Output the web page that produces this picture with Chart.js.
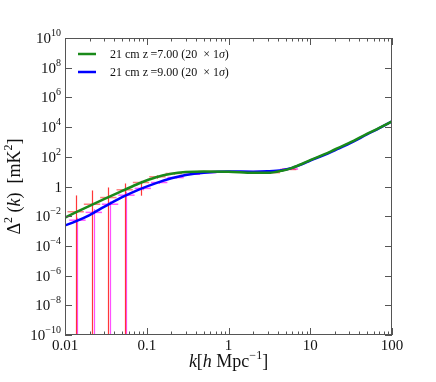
<!DOCTYPE html>
<html>
<head>
<meta charset="utf-8">
<script src="https://cdn.jsdelivr.net/npm/chart.js@4"></script>
<style>
  html, body { margin: 0; padding: 0; background: #fff; }
  #wrap { width: 436px; height: 382px; }
</style>
</head>
<body>
<div id="wrap"><canvas id="chart"></canvas></div>
<script>
// model power spectra
const kModel = [0.01, 0.0135, 0.02, 0.03, 0.05, 0.08, 0.13, 0.2, 0.3, 0.5, 1, 2, 3, 4.5, 6, 8, 10, 15, 20, 30, 50, 70, 100];
const powerZ7 = [0.008, 0.018, 0.05, 0.14, 0.5, 1.6, 4.2, 7.2, 9.3, 10.3, 10, 8.3, 8.3, 11.5, 18, 34, 60, 150, 310, 850, 3600, 8900, 24000];
const powerZ9 = [0.0024, 0.0045, 0.012, 0.042, 0.19, 0.62, 1.7, 3.6, 6, 8.5, 10.3, 10, 10.5, 12.5, 18, 32, 55, 135, 275, 760, 3300, 8400, 24000];
const seriesLabels = ['21 cm z\u2009=7.00 (20  \u00d7 1\u03c3)', '21 cm z\u2009=9.00 (20  \u00d7 1\u03c3)'];

// binned errors (null lower = goes below the axis)
const binK7 = [0.0135, 0.0214, 0.0339, 0.0537, 0.0851, 0.135, 0.214, 0.339, 0.537, 0.851, 1.35, 2.14, 3.39, 5.37];
const binVal7 = [0.02, 0.064, 0.18, 0.6, 1.86, 4.5, 7.5, 9.8, 10.2, 10, 9.3, 8.4, 8.6, 14];
const binHi7 = [0.25, 0.54, 0.86, 1.6, 2.4, 5.6, 8.6, 10.9, 11, 10.7, 9.9, 8.9, 9.1, 15];
const binLo7 = [null, null, null, null, 0.24, 3.4, 6.4, 8.7, 9.4, 9.3, 8.7, 7.9, 8.1, 13];

const binK9 = [0.0142, 0.0225, 0.0356, 0.0564, 0.0894, 0.142, 0.225, 0.356, 0.564, 0.894, 1.42, 2.25, 3.56, 5.64];
const binVal9 = [0.0054, 0.018, 0.064, 0.26, 0.75, 1.86, 4, 6.7, 8.7, 9.8, 10, 10, 10.8, 15];
const binHi9 = [0.008, 0.03, 0.1, 0.45, 0.95, 2.2, 4.5, 7.3, 9.3, 10.3, 10.4, 10.4, 11.3, 15.6];
const binLo9 = [null, null, null, null, 0.55, 1.5, 3.5, 6.1, 8.1, 9.3, 9.6, 9.6, 10.3, 14.4];

const xTicks = [0.01, 0.1, 1, 10, 100];
const yTickExps = [-10, -8, -6, -4, -2, 0, 2, 4, 6, 8, 10];

const binHalf = Math.pow(10, 0.1);
const serif = '"Liberation Serif", "DejaVu Serif", serif';

function pts(xs, ys) {
    return xs.map((x, i) => ({ x: x, y: ys[i] }));
}

function drawRich(ctx, parts, x, y, align) {
    let w = 0;
    parts.forEach(p => { ctx.font = p.font; w += ctx.measureText(p.t).width; });
    let cx = align === 'right' ? x - w : align === 'center' ? x - w / 2 : x;
    ctx.textAlign = 'left';
    ctx.textBaseline = 'alphabetic';
    parts.forEach(p => {
        ctx.font = p.font;
        ctx.fillText(p.t, cx, y - (p.dy || 0));
        cx += ctx.measureText(p.t).width;
    });
}

const errorBars = {
    id: 'errorBars',
    beforeDatasetsDraw(chart) {
        const ctx = chart.ctx, a = chart.chartArea;
        const xs = chart.scales.x, ys = chart.scales.y;
        ctx.save();
        ctx.beginPath();
        ctx.rect(a.left, a.top, a.right - a.left, a.bottom - a.top);
        ctx.clip();
        const sets = [
            [binK9, binVal9, binLo9, binHi9, 'rgba(255,0,255,0.65)', 'rgba(255,60,255,0.9)'],
            [binK7, binVal7, binLo7, binHi7, 'rgba(255,40,40,0.6)', 'rgba(255,20,20,0.85)']
        ];
        sets.forEach(([ks, vals, lo, hi, colH, colV]) => {
            ks.forEach((k, i) => {
                const x = Math.round(xs.getPixelForValue(k)) + 0.5;
                const y = ys.getPixelForValue(vals[i]);
                const yHi = ys.getPixelForValue(hi[i]);
                const yLo = lo[i] === null ? a.bottom + 5 : ys.getPixelForValue(lo[i]);
                ctx.strokeStyle = colH;
                ctx.lineWidth = 1.5;
                ctx.beginPath();
                ctx.moveTo(xs.getPixelForValue(k / binHalf), y);
                ctx.lineTo(xs.getPixelForValue(k * binHalf), y);
                ctx.stroke();
                ctx.strokeStyle = colV;
                ctx.lineWidth = 1.2;
                ctx.beginPath();
                ctx.moveTo(x, yLo);
                ctx.lineTo(x, yHi);
                ctx.stroke();
            });
        });
        ctx.restore();
    }
};

const axesDecor = {
    id: 'axesDecor',
    afterDraw(chart) {
        const ctx = chart.ctx, a = chart.chartArea;
        const xs = chart.scales.x, ys = chart.scales.y;
        ctx.save();
        ctx.strokeStyle = '#555';
        ctx.lineWidth = 1;
        ctx.strokeRect(a.left + 0.5, a.top + 0.5, a.right - a.left - 1, a.bottom - a.top - 1);

        // x ticks, major and minor, inward on top and bottom
        ctx.beginPath();
        for (let e = -2; e <= 2; e++) {
            for (let m = 1; m <= 9; m++) {
                const v = m * Math.pow(10, e);
                if (v > 100) break;
                const x = Math.round(xs.getPixelForValue(v)) + 0.5;
                const len = m === 1 ? 7 : 3.5;
                ctx.moveTo(x, a.bottom); ctx.lineTo(x, a.bottom - len);
                ctx.moveTo(x, a.top); ctx.lineTo(x, a.top + len);
            }
        }
        yTickExps.forEach(e => {
            const y = Math.round(ys.getPixelForValue(Math.pow(10, e))) + 0.5;
            ctx.moveTo(a.left, y); ctx.lineTo(a.left + 7, y);
            ctx.moveTo(a.right, y); ctx.lineTo(a.right - 7, y);
        });
        ctx.stroke();

        ctx.fillStyle = '#111';
        const big = '15px ' + serif, small = '10px ' + serif;
        xTicks.forEach(v => {
            ctx.font = big;
            ctx.textAlign = 'center';
            ctx.textBaseline = 'alphabetic';
            ctx.fillText(String(v), xs.getPixelForValue(v), a.bottom + 15);
        });
        yTickExps.forEach(e => {
            const y = ys.getPixelForValue(Math.pow(10, e)) + 5;
            if (e === 0) {
                drawRich(ctx, [{ t: '1', font: big }], a.left - 3, y, 'right');
            } else {
                const s = e < 0 ? '\u2212' + (-e) : String(e);
                drawRich(ctx, [{ t: '10', font: big }, { t: s, font: small, dy: 7 }], a.left - 4, y, 'right');
            }
        });

        // axis titles
        const tf = '18px ' + serif, ti = 'italic 18px ' + serif, ts = '12px ' + serif;
        drawRich(ctx, [
            { t: 'k', font: ti }, { t: '[', font: tf }, { t: 'h', font: ti },
            { t: ' Mpc', font: tf }, { t: '\u22121', font: ts, dy: 8 }, { t: ']', font: tf }
        ], (a.left + a.right) / 2, 367, 'center');

        ctx.save();
        ctx.translate(20, (a.top + a.bottom) / 2);
        ctx.rotate(-Math.PI / 2);
        drawRich(ctx, [
            { t: '\u0394', font: tf }, { t: '2', font: ts, dy: 8 }, { t: ' (', font: tf },
            { t: 'k', font: ti }, { t: ')  [mK', font: tf }, { t: '2', font: ts, dy: 8 }, { t: ']', font: tf }
        ], 0, 0, 'center');
        ctx.restore();

        // legend inside the axes
        chart.data.datasets.forEach((ds, i) => {
            const y = 54 + i * 18;
            ctx.strokeStyle = ds.borderColor;
            ctx.lineWidth = 2.5;
            ctx.beginPath();
            ctx.moveTo(a.left + 13, y);
            ctx.lineTo(a.left + 31, y);
            ctx.stroke();
            const parts = ds.label.split('\u03c3');
            ctx.fillStyle = '#111';
            drawRich(ctx, [
                { t: parts[0], font: '12px ' + serif },
                { t: '\u03c3', font: 'italic 12px ' + serif },
                { t: parts[1], font: '12px ' + serif }
            ], a.left + 45, y + 4, 'left');
        });
        ctx.restore();
    }
};

const ctx = document.getElementById('chart').getContext('2d');
new Chart(ctx, {
    type: 'scatter',
    data: {
        datasets: [{
            label: seriesLabels[0],
            data: pts(kModel, powerZ7),
            borderColor: '#1a8a1a',
            borderWidth: 2.5,
            showLine: true,
            pointRadius: 0,
            cubicInterpolationMode: 'monotone'
        }, {
            label: seriesLabels[1],
            data: pts(kModel, powerZ9),
            borderColor: '#0000ff',
            borderWidth: 2.5,
            showLine: true,
            pointRadius: 0,
            cubicInterpolationMode: 'monotone'
        }]
    },
    options: {
        responsive: true,
        maintainAspectRatio: false,
        animation: false,
        layout: { padding: { left: 65, right: 44, top: 38, bottom: 47 } },
        plugins: { legend: { display: false }, tooltip: { enabled: false } },
        scales: {
            x: { type: 'logarithmic', min: 0.01, max: 100, display: false },
            y: { type: 'logarithmic', min: 1e-10, max: 1e10, display: false }
        }
    },
    plugins: [errorBars, axesDecor]
});
</script>
</body>
</html>
